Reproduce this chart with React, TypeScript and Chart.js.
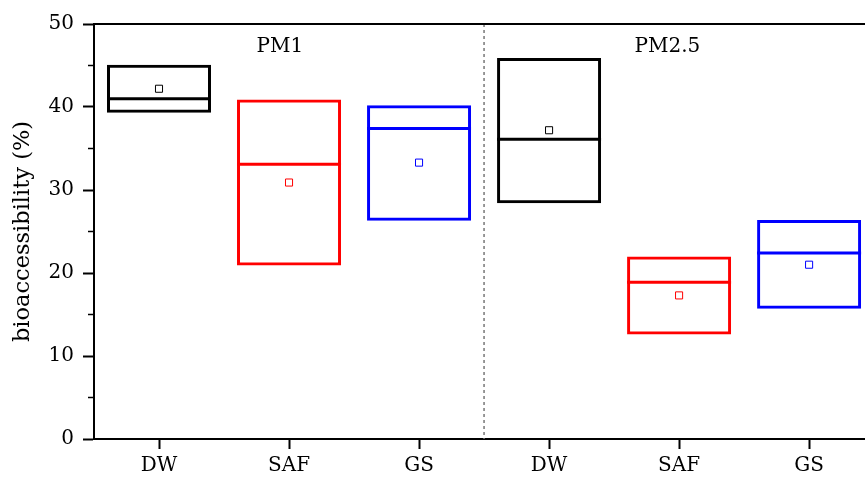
import React, { useEffect, useRef } from "react";
import { Chart, registerables } from "chart.js";

Chart.register(...registerables);

const categories = ["DW", "SAF", "GS", "DW", "SAF", "GS"];
const boxLow = [39.3, 20.9, 26.3, 28.4, 12.6, 15.7];
const boxHigh = [45.1, 40.9, 40.2, 45.9, 22.0, 26.4];
const medians = [41.0, 33.1, 37.4, 36.1, 18.9, 22.4];
const means = [42.2, 30.9, 33.3, 37.2, 17.3, 21.0];
const colors = ["#000000", "#ff0000", "#0000ff", "#000000", "#ff0000", "#0000ff"];
const groupLabels = ["PM1", "PM2.5"];
const groupLabelX = [0.93, 3.91];
const groupLabelY = 47.3;
const separatorX = 2.5;
const yTicks = [0, 10, 20, 30, 40, 50];
const yMinorTicks = [5, 15, 25, 35, 45];
const FONT = "'DejaVu Serif', serif";

const overlayPlugin = {
  id: "overlay",
  afterDatasetsDraw(chart: any) {
    const { ctx, chartArea, scales } = chart;
    const xs = scales.x;
    const ys = scales.y;
    ctx.save();
    // separator
    const sx = xs.getPixelForValue(separatorX);
    ctx.strokeStyle = "#777777";
    ctx.lineWidth = 1.5;
    ctx.setLineDash([3, 3]);
    ctx.beginPath();
    ctx.moveTo(sx, chartArea.top);
    ctx.lineTo(sx, chartArea.bottom);
    ctx.stroke();
    ctx.setLineDash([]);
    // top border
    ctx.strokeStyle = "#000";
    ctx.lineWidth = 2;
    ctx.beginPath();
    ctx.moveTo(chartArea.left - 1, chartArea.top);
    ctx.lineTo(chartArea.right, chartArea.top);
    ctx.stroke();
    // minor ticks
    ctx.lineWidth = 1.5;
    yMinorTicks.forEach((v) => {
      const py = ys.getPixelForValue(v);
      ctx.beginPath();
      ctx.moveTo(chartArea.left - 6, py);
      ctx.lineTo(chartArea.left, py);
      ctx.stroke();
    });
    // group labels
    ctx.fillStyle = "#000";
    ctx.font = "20px " + FONT;
    ctx.textAlign = "center";
    ctx.textBaseline = "middle";
    groupLabels.forEach((t, i) => {
      ctx.fillText(t, xs.getPixelForValue(groupLabelX[i]), ys.getPixelForValue(groupLabelY));
    });
    ctx.restore();
  },
};

const noPad = (s: any) => {
  s.paddingLeft = 0;
  s.paddingRight = 0;
  s.paddingTop = 0;
  s.paddingBottom = 0;
};

export default function App() {
  const ref = useRef<HTMLCanvasElement>(null);
  useEffect(() => {
    if (!ref.current) return;
    const chart = new Chart(ref.current, {
      type: "bar",
      data: {
        datasets: [
          {
            type: "bar",
            data: categories.map((_, i) => ({ x: i, y: [boxLow[i], boxHigh[i]] })) as any,
            backgroundColor: "rgba(0,0,0,0)",
            borderColor: colors,
            borderWidth: 3,
            borderSkipped: false,
            barPercentage: 0.8,
            categoryPercentage: 1,
          } as any,
          {
            type: "scatter",
            data: categories.map((_, i) => ({ x: i, y: medians[i] })),
            pointStyle: "line",
            pointRadius: 52,
            pointBorderWidth: 3,
            pointBorderColor: colors,
            showLine: false,
          } as any,
          {
            type: "scatter",
            data: categories.map((_, i) => ({ x: i, y: means[i] })),
            pointStyle: "rect",
            pointRadius: 5,
            pointBorderWidth: 1,
            pointBorderColor: colors,
            pointBackgroundColor: "#ffffff",
            showLine: false,
          } as any,
        ],
      },
      options: {
        animation: false,
        responsive: false,
        layout: { autoPadding: false, padding: { top: 24, right: 0, left: 0, bottom: 0 } },
        plugins: { legend: { display: false }, tooltip: { enabled: false } },
        scales: {
          x: {
            type: "linear",
            offset: false,
            min: -0.5,
            max: 5.43,
            afterBuildTicks: (s: any) => {
              s.ticks = categories.map((_, i) => ({ value: i }));
            },
            afterFit: (s: any) => {
              s.height = 41;
              noPad(s);
            },
            ticks: {
              callback: (v: any) => categories[v as number] ?? "",
              color: "#000",
              font: { family: FONT, size: 20 },
              padding: 5,
              maxRotation: 0,
              autoSkip: false,
            },
            grid: { offset: false, drawOnChartArea: false, tickLength: 10, tickWidth: 2, tickColor: "#000" },
            border: { color: "#000", width: 2 },
          },
          y: {
            min: 0,
            max: 50,
            afterBuildTicks: (s: any) => {
              s.ticks = yTicks.map((v) => ({ value: v }));
            },
            afterFit: (s: any) => {
              s.width = 94;
              noPad(s);
            },
            ticks: {
              color: "#000",
              font: { family: FONT, size: 20 },
              padding: 9,
            },
            grid: { drawOnChartArea: false, tickLength: 11, tickWidth: 2, tickColor: "#000" },
            border: { color: "#000", width: 2 },
            title: {
              display: true,
              text: "bioaccessibility (%)",
              color: "#000",
              font: { family: FONT, size: 22.5 },
              padding: { top: 10, bottom: 0 },
            },
          },
        },
      },
      plugins: [overlayPlugin],
    });
    return () => chart.destroy();
  }, []);
  return (
    <div style={{ position: "fixed", left: 0, top: 0, width: 865, height: 480, background: "#fff" }}>
      <canvas ref={ref} width={865} height={480} style={{ display: "block" }} />
    </div>
  );
}
